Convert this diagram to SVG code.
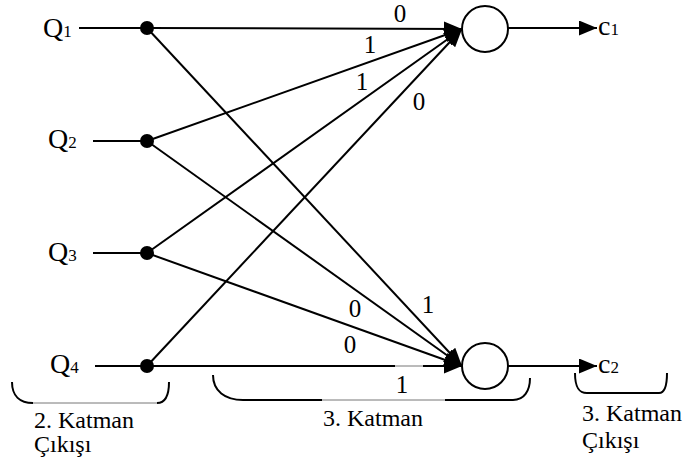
<svg xmlns="http://www.w3.org/2000/svg" width="687" height="467" viewBox="0 0 687 467">
<style>
.ln{stroke:#000;stroke-width:2;fill:none}
.thin{stroke:#777;stroke-width:1;fill:none}
.arr{marker-end:url(#ah)}
.dot{fill:#000}
.node{fill:#fff;stroke:#000;stroke-width:2}
text{font-family:'Liberation Serif','DejaVu Serif',serif;fill:#000}
</style>
<defs>
<marker id="ah" markerUnits="userSpaceOnUse" markerWidth="18" markerHeight="15" refX="18" refY="7.5" orient="auto">
<path d="M0,0 L18,7.5 L0,15 z" fill="#000"/>
</marker>
</defs>
<g id="connectors">
<line class="ln" x1="79" y1="28" x2="147" y2="28"/>
<line class="ln" x1="93" y1="141" x2="147" y2="141"/>
<line class="ln" x1="93" y1="253" x2="147" y2="253"/>
<line class="ln" x1="95" y1="366" x2="147" y2="366"/>
<line class="ln arr" x1="147" y1="28" x2="462" y2="29"/>
<line class="ln arr" x1="147" y1="141" x2="462" y2="29"/>
<line class="ln arr" x1="147" y1="253" x2="462" y2="29"/>
<line class="ln arr" x1="147" y1="366" x2="462" y2="29"/>
<line class="ln arr" x1="147" y1="28" x2="462" y2="366"/>
<line class="ln arr" x1="147" y1="141" x2="462" y2="366"/>
<line class="ln arr" x1="147" y1="253" x2="462" y2="366"/>
<line class="ln" x1="147" y1="366" x2="395" y2="366"/>
<line class="thin" x1="395" y1="366" x2="423" y2="366"/>
<line class="ln arr" x1="423" y1="366" x2="462" y2="366"/>
<line class="ln arr" x1="508" y1="28" x2="597" y2="28"/>
<line class="ln arr" x1="508" y1="366" x2="597" y2="366"/>
</g>
<g id="Q1"><circle class="dot" cx="147" cy="28" r="7"/><text font-size="28" x="43" y="37">Q<tspan font-size="17">1</tspan></text></g>
<g id="Q2"><circle class="dot" cx="147" cy="141" r="7"/><text font-size="28" x="48" y="148">Q<tspan font-size="17">2</tspan></text></g>
<g id="Q3"><circle class="dot" cx="147" cy="253" r="7"/><text font-size="28" x="48" y="261">Q<tspan font-size="17">3</tspan></text></g>
<g id="Q4"><circle class="dot" cx="147" cy="366" r="7"/><text font-size="28" x="50" y="373">Q<tspan font-size="17">4</tspan></text></g>
<g id="n1"><circle class="node" cx="485" cy="29" r="23"/></g>
<g id="n2"><circle class="node" cx="485" cy="366" r="23"/></g>
<g id="c1"><text font-size="28" x="598" y="35">c<tspan font-size="17">1</tspan></text></g>
<g id="c2"><text font-size="28" x="598" y="373">c<tspan font-size="17">2</tspan></text></g>
<g id="weights" font-size="25" text-anchor="middle">
<text x="400" y="22">0</text>
<text x="370" y="53">1</text>
<text x="362" y="90">1</text>
<text x="419" y="110">0</text>
<text x="355" y="317">0</text>
<text x="428" y="313">1</text>
<text x="350" y="353">0</text>
<text x="402" y="393">1</text>
</g>
<g id="bracket1">
<path class="ln" d="M12,382 C12,396 20,403 33,403"/>
<line class="thin" x1="33" y1="403" x2="157" y2="403"/>
<path class="ln" d="M157,403 C165,403 169,395 169,382"/>
<text font-size="24" x="34" y="428">2. Katman</text>
<text font-size="24" x="34" y="452">Çıkışı</text>
</g>
<g id="bracket2">
<path class="ln" d="M213,375 C213,391 225,400 243,400 L322,400"/>
<line class="thin" x1="322" y1="400" x2="445" y2="400"/>
<path class="ln" d="M445,400 L513,400 C524,400 530,391 530,378"/>
<text font-size="24" x="323" y="426">3. Katman</text>
</g>
<g id="bracket3">
<path class="ln" d="M575,373 C575,386 578,393 587,393 L659,393 C665,393 667,386 667,373"/>
<text font-size="24" x="582" y="421">3. Katman</text>
<text font-size="24" x="582" y="448">Çıkışı</text>
</g>
</svg>
